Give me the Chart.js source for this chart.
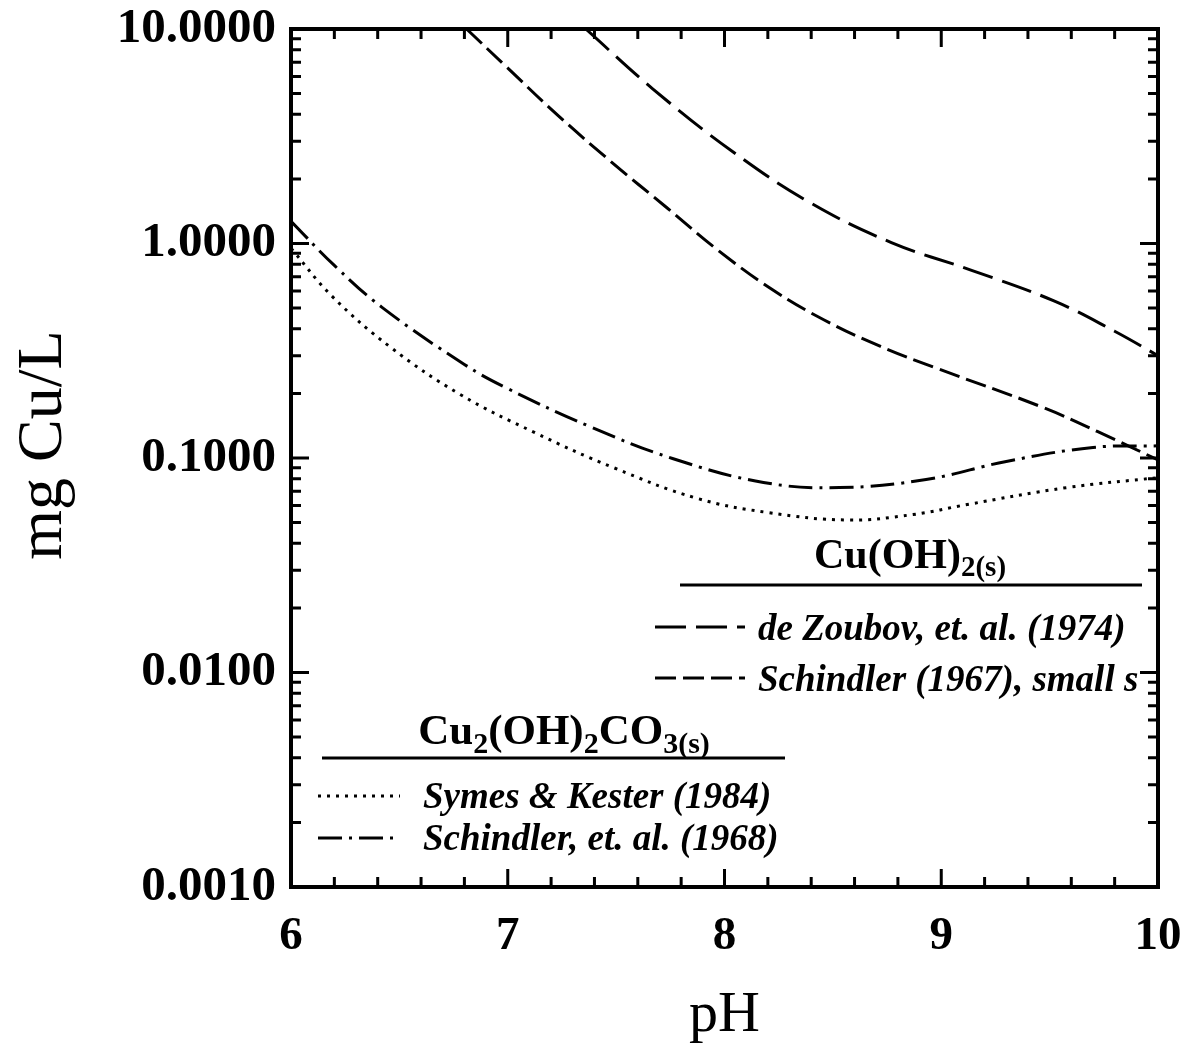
<!DOCTYPE html>
<html>
<head>
<meta charset="utf-8">
<script src="https://cdn.jsdelivr.net/npm/chart.js@4/dist/chart.umd.min.js"></script>
<style>
  html, body { margin: 0; padding: 0; background: #fff; }
  #wrap { width: 1192px; height: 1056px; }
</style>
</head>
<body>
<div id="wrap"><canvas id="c" width="1192" height="1056"></canvas></div>
<script>
// Dissolved copper solubility versus pH for copper hydroxide and malachite
const zoubovPH = [7.36, 7.67, 8.04, 8.40, 8.77, 9.14, 9.52, 9.80, 10.0];
const zoubovCu = [10.0, 5.25, 2.67, 1.54, 1.01, 0.75, 0.54, 0.39, 0.30];

const schindler67PH = [6.81, 6.98, 7.23, 7.48, 7.73, 7.97, 8.22, 8.46, 8.72, 8.97, 9.47, 9.72, 10.0];
const schindler67Cu = [10.0, 6.87, 3.97, 2.39, 1.48, 0.93, 0.61, 0.44, 0.331, 0.264, 0.172, 0.133, 0.098];

const symesPH = [6.0, 6.19, 6.46, 6.78, 7.12, 7.49, 7.87, 8.20, 8.57, 8.87, 9.12, 9.58, 10.0];
const symesCu = [0.95, 0.567, 0.328, 0.198, 0.132, 0.090, 0.065, 0.0557, 0.0514, 0.0545, 0.0607, 0.0728, 0.081];

const schindler68PH = [6.0, 6.20, 6.42, 6.80, 6.99, 7.38, 7.76, 8.18, 8.53, 8.93, 9.30, 9.70, 10.0];
const schindler68Cu = [1.27, 0.79, 0.504, 0.273, 0.213, 0.140, 0.0995, 0.0769, 0.0728, 0.0794, 0.0964, 0.112, 0.114];

const xTickValues = [6, 7, 8, 9, 10];
const yTickValues = [0.001, 0.01, 0.1, 1, 10];

const legendHydroxide = ['de Zoubov, et. al. (1974)', 'Schindler (1967), small s'];
const legendCarbonate = ['Symes & Kester (1984)', 'Schindler, et. al. (1968)'];

const SERIF = '"Liberation Serif", "Times New Roman", serif';

const pts = (xs, ys) => xs.map((v, i) => ({ x: v, y: ys[i] }));

const DASH_ZOUBOV = [31, 10];
const DASH_SCH67  = [21, 7];
const DASH_DOT    = [3, 6];
const DASH_SCH68  = [24, 7, 3, 7];

function line(label, data, dash) {
  return {
    label, data,
    borderColor: '#000', borderWidth: 3, borderDash: dash,
    pointRadius: 0, tension: 0.4, fill: false
  };
}

// Sample stroke with a dash pattern
function sample(ctx, x0, x1, y, dash) {
  ctx.save();
  ctx.setLineDash(dash);
  ctx.lineWidth = 3;
  ctx.beginPath();
  ctx.moveTo(x0, y); ctx.lineTo(x1, y);
  ctx.stroke();
  ctx.restore();
}

// Chemical formula with subscripts, centred on cx
function formula(ctx, parts, cx, baseline, size) {
  const big = 'bold ' + size + 'px ' + SERIF;
  const small = 'bold ' + Math.round(size * 0.7) + 'px ' + SERIF;
  let w = 0;
  parts.forEach(p => { ctx.font = p.sub ? small : big; w += ctx.measureText(p.t).width; });
  let x = cx - w / 2;
  ctx.textAlign = 'left';
  ctx.textBaseline = 'alphabetic';
  parts.forEach(p => {
    ctx.font = p.sub ? small : big;
    ctx.fillText(p.t, x, baseline + (p.sub ? size * 0.2 : 0));
    x += ctx.measureText(p.t).width;
  });
}

const decor = {
  id: 'decor',
  afterDraw(chart) {
    const { ctx, chartArea: a, scales: { x, y } } = chart;
    ctx.save();
    ctx.strokeStyle = '#000';
    ctx.fillStyle = '#000';

    // inward tick marks on all four sides
    ctx.lineWidth = 3;
    ctx.beginPath();
    for (let i = 0; i <= 20; i++) {
      const px = x.getPixelForValue(6 + i * 0.2);
      const len = i % 5 === 0 ? 18 : 10;
      ctx.moveTo(px, a.bottom); ctx.lineTo(px, a.bottom - len);
      ctx.moveTo(px, a.top); ctx.lineTo(px, a.top + len);
    }
    for (let e = -3; e <= 1; e++) {
      for (let m = 1; m <= 9; m++) {
        const v = m * Math.pow(10, e);
        if (v > 10.0001) break;
        const py = y.getPixelForValue(v);
        const len = m === 1 ? 18 : 10;
        ctx.moveTo(a.left, py); ctx.lineTo(a.left + len, py);
        ctx.moveTo(a.right, py); ctx.lineTo(a.right - len, py);
      }
    }
    ctx.stroke();

    // plot frame
    ctx.lineWidth = 4;
    ctx.strokeRect(a.left, a.top, a.right - a.left, a.bottom - a.top);

    // axis titles
    ctx.textAlign = 'center';
    ctx.textBaseline = 'middle';
    ctx.font = '58px ' + SERIF;
    ctx.fillText('pH', (a.left + a.right) / 2, 1016);
    ctx.save();
    ctx.translate(44, 445);
    ctx.rotate(-Math.PI / 2);
    ctx.font = '64px ' + SERIF;
    ctx.fillText('mg Cu/L', 0, 0);
    ctx.restore();

    // Cu(OH)2(s) key
    formula(ctx, [{ t: 'Cu(OH)' }, { t: '2', sub: true }, { t: '(s)', sub: true }], 910, 568, 42);
    ctx.lineWidth = 3;
    ctx.beginPath(); ctx.moveTo(680, 585); ctx.lineTo(1142, 585); ctx.stroke();
    ctx.font = 'italic bold 37px ' + SERIF;
    ctx.textAlign = 'left';
    ctx.textBaseline = 'middle';
    sample(ctx, 655, 745, 627, DASH_ZOUBOV);
    ctx.fillText(legendHydroxide[0], 758, 630);
    sample(ctx, 655, 745, 678, DASH_SCH67);
    ctx.fillText(legendHydroxide[1], 758, 681);

    // Cu2(OH)2CO3(s) key
    formula(ctx, [{ t: 'Cu' }, { t: '2', sub: true }, { t: '(OH)' }, { t: '2', sub: true },
                  { t: 'CO' }, { t: '3', sub: true }, { t: '(s)', sub: true }], 564, 744, 43);
    ctx.lineWidth = 3;
    ctx.beginPath(); ctx.moveTo(322, 758); ctx.lineTo(785, 758); ctx.stroke();
    ctx.font = 'italic bold 37px ' + SERIF;
    ctx.textAlign = 'left';
    ctx.textBaseline = 'middle';
    sample(ctx, 318, 400, 796, DASH_DOT);
    ctx.fillText(legendCarbonate[0], 423, 798);
    sample(ctx, 318, 400, 838, DASH_SCH68);
    ctx.fillText(legendCarbonate[1], 423, 840);

    ctx.restore();
  }
};

new Chart(document.getElementById('c'), {
  type: 'line',
  data: {
    datasets: [
      line('de Zoubov, et. al. (1974)', pts(zoubovPH, zoubovCu), DASH_ZOUBOV),
      line('Schindler (1967), small s', pts(schindler67PH, schindler67Cu), DASH_SCH67),
      line('Symes & Kester (1984)', pts(symesPH, symesCu), DASH_DOT),
      line('Schindler, et. al. (1968)', pts(schindler68PH, schindler68Cu), DASH_SCH68)
    ]
  },
  options: {
    responsive: false,
    devicePixelRatio: 1,
    animation: false,
    layout: { padding: { left: 0, right: 34, top: 29, bottom: 0 } },
    plugins: { legend: { display: false }, tooltip: { enabled: false } },
    scales: {
      x: {
        type: 'linear', min: 6, max: 10,
        afterFit: s => { s.height = 169; s.paddingLeft = 0; s.paddingRight = 0; },
        afterBuildTicks: s => { s.ticks = xTickValues.map(v => ({ value: v })); },
        grid: { display: false, drawTicks: false },
        border: { display: false },
        ticks: {
          color: '#000', padding: 22,
          font: { family: SERIF, size: 47, weight: 'bold' },
          callback: v => String(v)
        }
      },
      y: {
        type: 'logarithmic', min: 0.001, max: 10,
        afterFit: s => { s.width = 291; s.paddingTop = 0; s.paddingBottom = 0; },
        afterBuildTicks: s => { s.ticks = yTickValues.map(v => ({ value: v })); },
        grid: { display: false, drawTicks: false },
        border: { display: false },
        ticks: {
          color: '#000', padding: 15,
          font: { family: SERIF, size: 49, weight: 'bold' },
          callback: v => Number(v).toFixed(4)
        }
      }
    }
  },
  plugins: [decor]
});
</script>
</body>
</html>
